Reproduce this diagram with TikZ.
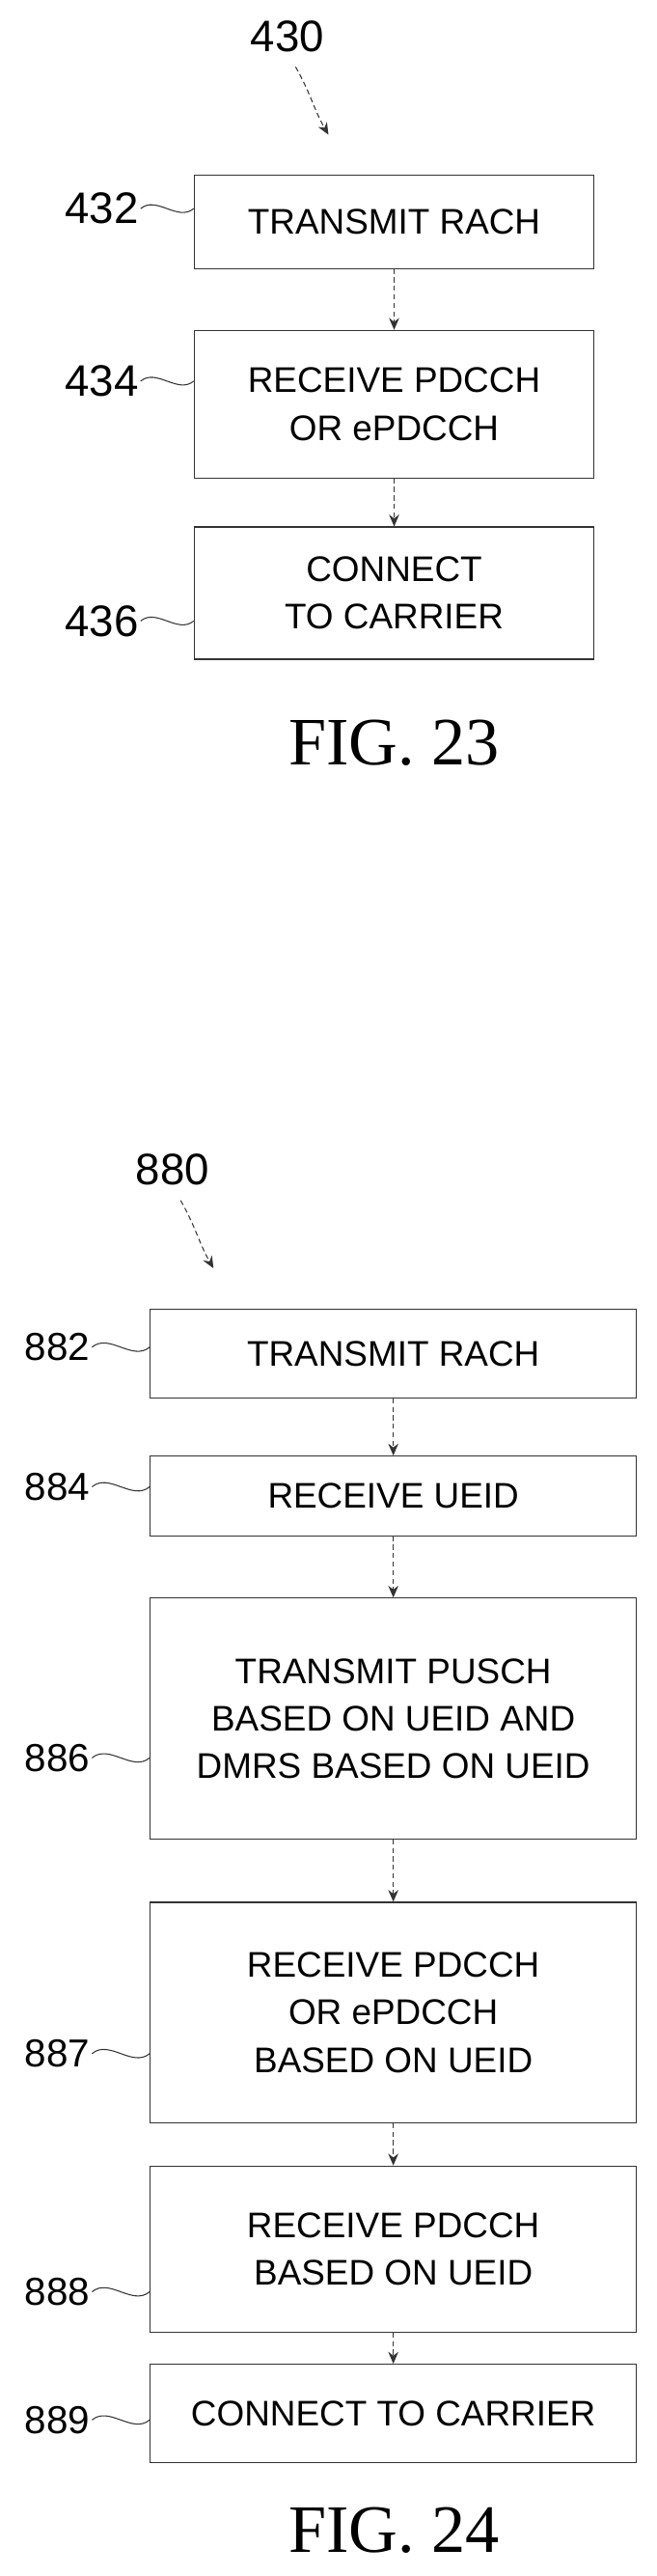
\documentclass[tikz,border=0pt]{standalone}
\usepackage{fontspec}
\setmainfont{Liberation Sans}
\newfontfamily\figfont{Liberation Serif}
\usetikzlibrary{arrows.meta}
\begin{document}
\begin{tikzpicture}[x=0.03405cm, y=-0.03405cm,
	box/.style  = {draw=black!80, semithick, align=center, inner sep=0pt,
	               font=\fontsize{21}{28}\selectfont},
	ref/.style  = {font=\fontsize{26}{28}\selectfont, inner sep=1pt},
	lref/.style = {font=\fontsize{23}{26}\selectfont, inner sep=1pt},
	lead/.style = {draw=black!80, semithick},
	flow/.style = {->, draw=black!80, semithick, densely dashed},
	fig/.style  = {font=\figfont\fontsize{40}{44}\selectfont},
	>={Stealth[length=7pt,width=6pt]}]
	\useasboundingbox (0,0) rectangle (400,1568);

	% FIG. 23
	\node[ref] (l430) at (175,22) {430};
	\coordinate (t430) at (200,82);
	\draw[flow] (l430.south) ++(5,8) to[out=-60,in=120] (t430);

	\node[box, minimum width=236, minimum height=55] (b432) at (240,135) {TRANSMIT RACH};
	\node[box, minimum width=236, minimum height=87] (b434) at (240,246) {RECEIVE PDCCH\\OR ePDCCH};
	\node[box, minimum width=236, minimum height=78] (b436) at (240,361) {CONNECT\\TO CARRIER};

	\node[ref] (l432) at (62,127) {432};
	\node[ref] (l434) at (62,232) {434};
	\node[ref] (l436) at (62,378) {436};
	\foreach \n in {432,434,436}
		\draw[lead] (l\n.east) to[out=40,in=220] (b\n.west |- l\n);

	\draw[flow] (b432) -- (b434);
	\draw[flow] (b434) -- (b436);

	\node[fig] (f23) at (240,452) {FIG. 23};

	% FIG. 24
	\node[ref] (l880) at (105,712) {880};
	\coordinate (t880) at (130,772);
	\draw[flow] (l880.south) ++(5,8) to[out=-60,in=120] (t880);

	\node[box, minimum width=287, minimum height=52]  (b882) at (239.5,824) {TRANSMIT RACH};
	\node[box, minimum width=287, minimum height=47]  (b884) at (239.5,910.5) {RECEIVE UEID};
	\node[box, minimum width=287, minimum height=142] (b886) at (239.5,1046) {TRANSMIT PUSCH\\BASED ON UEID AND\\DMRS BASED ON UEID};
	\node[box, minimum width=287, minimum height=130] (b887) at (239.5,1225) {RECEIVE PDCCH\\OR ePDCCH\\BASED ON UEID};
	\node[box, minimum width=287, minimum height=98]  (b888) at (239.5,1369) {RECEIVE PDCCH\\BASED ON UEID};
	\node[box, minimum width=287, minimum height=58]  (b889) at (239.5,1469) {CONNECT TO CARRIER};

	\node[lref] (l882) at (35,820) {882};
	\node[lref] (l884) at (35,905) {884};
	\node[lref] (l886) at (35,1070) {886};
	\node[lref] (l887) at (35,1250) {887};
	\node[lref] (l888) at (35,1395) {888};
	\node[lref] (l889) at (35,1473) {889};
	\foreach \n in {882,884,886,887,888,889}
		\draw[lead] (l\n.east) to[out=40,in=220] (b\n.west |- l\n);

	\draw[flow] (b882) -- (b884);
	\draw[flow] (b884) -- (b886);
	\draw[flow] (b886) -- (b887);
	\draw[flow] (b887) -- (b888);
	\draw[flow] (b888) -- (b889);

	\node[fig] (f24) at (240,1540) {FIG. 24};
\end{tikzpicture}
\end{document}
